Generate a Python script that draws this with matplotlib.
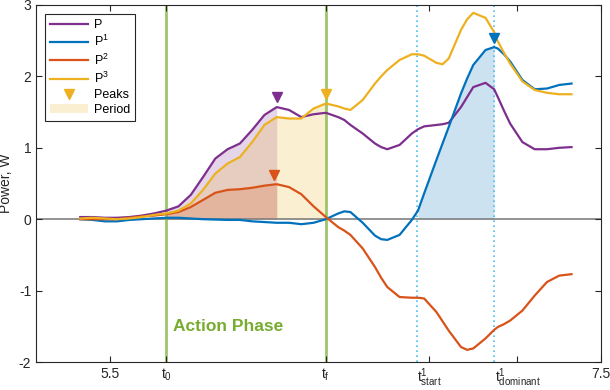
import numpy as np
import matplotlib
matplotlib.use("Agg")
import matplotlib.pyplot as plt
from matplotlib.lines import Line2D
from matplotlib.patches import Patch

plt.rcParams['font.family'] = ['Liberation Sans', 'DejaVu Sans']
plt.rcParams['mathtext.fontset'] = 'custom'
plt.rcParams['mathtext.rm'] = 'Liberation Sans'
plt.rcParams['mathtext.default'] = 'regular'
plt.rcParams['axes.unicode_minus'] = False

# time samples
t = [5.38, 5.43, 5.48, 5.53, 5.58, 5.63, 5.68, 5.73, 5.78, 5.83, 5.88, 5.93, 5.98,
     6.03, 6.08, 6.13, 6.18, 6.23, 6.28, 6.33, 6.38, 6.43, 6.455, 6.48, 6.53, 6.58,
     6.605, 6.63, 6.68, 6.73, 6.755, 6.78, 6.83, 6.855, 6.88, 6.93, 6.955, 6.98, 7.03,
     7.065, 7.08, 7.105, 7.13, 7.18, 7.23, 7.28, 7.33, 7.38]

P = [0.03, 0.03, 0.02, 0.02, 0.03, 0.05, 0.08, 0.12, 0.18, 0.34, 0.59, 0.85, 0.98,
     1.06, 1.25, 1.46, 1.57, 1.53, 1.43, 1.47, 1.49, 1.43, 1.39, 1.32, 1.20, 1.06,
     1.01, 0.98, 1.04, 1.20, 1.26, 1.30, 1.32, 1.33, 1.35, 1.57, 1.71, 1.85, 1.91,
     1.82, 1.71, 1.52, 1.34, 1.08, 0.98, 0.98, 1.00, 1.01]
P1 = [0.0, -0.01, -0.03, -0.03, -0.01, 0.0, 0.01, 0.02, 0.02, 0.01, 0.0, -0.005, -0.01,
      -0.01, -0.03, -0.04, -0.05, -0.05, -0.07, -0.05, 0.0, 0.08, 0.11, 0.10, -0.05, -0.23,
      -0.28, -0.29, -0.22, -0.01, 0.12, 0.36, 0.83, 1.06, 1.29, 1.76, 1.97, 2.16, 2.37,
      2.41, 2.39, 2.31, 2.21, 1.95, 1.82, 1.83, 1.88, 1.90]
P2 = [0.0, 0.0, 0.0, 0.0, 0.02, 0.04, 0.05, 0.07, 0.10, 0.17, 0.27, 0.37, 0.41,
      0.42, 0.44, 0.47, 0.49, 0.45, 0.35, 0.18, 0.03, -0.11, -0.16, -0.22, -0.41, -0.67,
      -0.82, -0.95, -1.09, -1.10, -1.10, -1.11, -1.30, -1.43, -1.56, -1.79, -1.83, -1.81, -1.67,
      -1.55, -1.51, -1.47, -1.42, -1.28, -1.07, -0.88, -0.79, -0.77]
P3 = [0.01, 0.02, 0.01, 0.0, 0.01, 0.03, 0.06, 0.08, 0.12, 0.22, 0.41, 0.64, 0.78,
      0.87, 1.08, 1.32, 1.43, 1.41, 1.41, 1.55, 1.62, 1.58, 1.55, 1.53, 1.67, 1.90,
      2.00, 2.09, 2.23, 2.31, 2.31, 2.29, 2.19, 2.17, 2.25, 2.65, 2.80, 2.89, 2.82,
      2.62, 2.49, 2.33, 2.18, 1.93, 1.81, 1.77, 1.75, 1.75]

# peak markers (x, y) for P, P2, P3, P1
peak_x = [6.18, 6.17, 6.38, 7.065]
peak_y = [1.71, 0.62, 1.76, 2.54]

t0, tf = 5.73, 6.38
t_start_line, t_dom_line = 6.752, 7.065
tick_pos = [5.5, 5.73, 6.38, 6.80, 7.16, 7.5]
tick_lab = ['5.5', '$t_0$', '$t_f$', '$t^1_{start}$', '$t^1_{dominant}$', '7.5']

c_blue, c_orange, c_yellow, c_purple, c_green = '#0072BD', '#D95319', '#EDB120', '#7E2F8E', '#77AC30'

t = np.array(t)
P, P1, P2, P3 = map(np.array, (P, P1, P2, P3))

fig = plt.figure(figsize=(6.1, 3.9), dpi=100)
ax = fig.add_axes([36 / 610, 28 / 390, 565 / 610, 357 / 390])

# shaded areas
m = (t >= t0) & (t <= 6.18)
ax.fill_between(t[m], 0, P[m], color=c_purple, alpha=0.2, lw=0)
mp = (t >= t0) & (t <= tf)
ax.fill_between(t[mp], 0, P3[mp], color=c_yellow, alpha=0.2, lw=0)
ax.fill_between(t[m], 0, P2[m], color=c_orange, alpha=0.2, lw=0)
mb = (t >= 6.755) & (t <= t_dom_line)
ax.fill_between(t[mb], 0, P1[mb], color=c_blue, alpha=0.2, lw=0)

ax.axhline(0, color='#808080', lw=1.2, zorder=1)
for xv in (t0, tf):
    ax.axvline(xv, color=c_green, lw=2, alpha=0.7, zorder=1)
for xv in (t_start_line, t_dom_line):
    ax.axvline(xv, color='#4DBEEE', lw=1.2, ls=(0, (1, 2)), zorder=1)

ax.plot(t, P, color=c_purple, lw=1.6)
ax.plot(t, P1, color=c_blue, lw=1.6)
ax.plot(t, P2, color=c_orange, lw=1.6)
ax.plot(t, P3, color=c_yellow, lw=1.6)

for xv, yv, c in zip(peak_x, peak_y, [c_purple, c_orange, c_yellow, c_blue]):
    ax.plot(xv, yv, 'v', color=c, ms=7)

ax.text(5.756, -1.5, 'Action Phase', color=c_green, fontsize=12.5, fontweight='bold', va='center')

ax.set_xlim(5.2, 7.5)
ax.set_ylim(-2, 3)
ax.set_xticks(tick_pos)
ax.set_xticklabels(tick_lab)
ax.set_yticks([-2, -1, 0, 1, 2, 3])
ax.set_ylabel('Power, W', fontsize=10, color='#262626')
ax.tick_params(direction='in', top=True, right=True, labelsize=10, colors='#262626', length=4)
for s in ax.spines.values():
    s.set_color('#262626')
    s.set_linewidth(0.8)

handles = [Line2D([], [], color=c_purple, lw=1.6),
           Line2D([], [], color=c_blue, lw=1.6),
           Line2D([], [], color=c_orange, lw=1.6),
           Line2D([], [], color=c_yellow, lw=1.6),
           Line2D([], [], color=c_yellow, marker='v', ls='none', ms=7),
           Patch(facecolor=c_yellow, alpha=0.2, lw=0)]
labels = ['P', '$P^1$', '$P^2$', '$P^3$', 'Peaks', 'Period']
leg = ax.legend(handles, labels, loc='upper left', bbox_to_anchor=(0.016, 0.975), borderaxespad=0,
                fontsize=9, fancybox=False, framealpha=1, edgecolor='#262626',
                handlelength=3.0, labelspacing=0.25, borderpad=0.4, handletextpad=0.5)
leg.get_frame().set_linewidth(0.8)

fig.savefig('out.png', dpi=100)
